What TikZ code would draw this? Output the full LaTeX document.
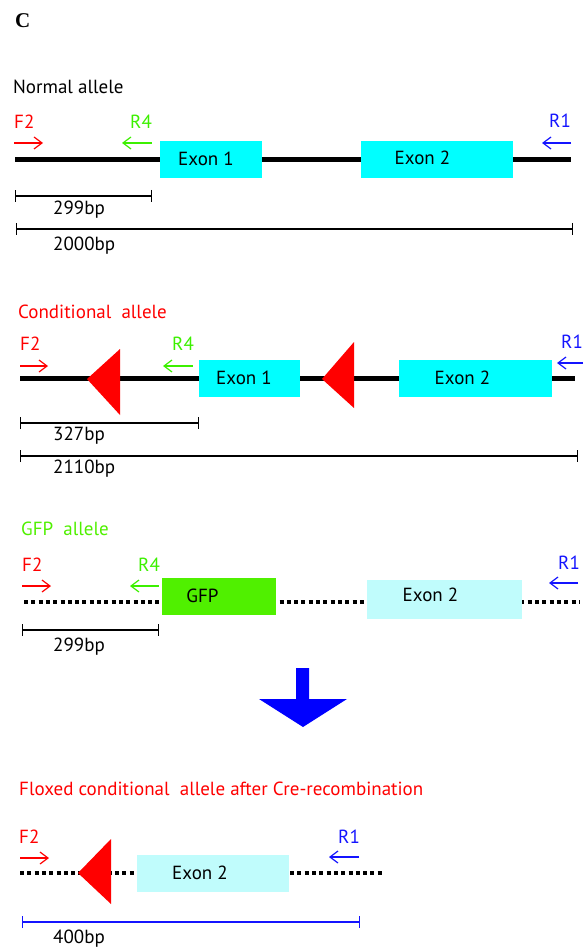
\documentclass[tikz,border=0pt]{standalone}
\usepackage{fontspec}
\setmainfont{PT Sans}
\newfontfamily\panelfont{Liberation Serif}
\usetikzlibrary{arrows.meta}

\definecolor{exoncyan}{RGB}{0,255,255}
\definecolor{exonpale}{RGB}{192,252,252}
\definecolor{gfpgreen}{RGB}{80,240,0}
\definecolor{rfourgreen}{RGB}{60,240,0}
\definecolor{loxred}{RGB}{255,0,0}
\definecolor{roneblue}{RGB}{20,20,255}

\tikzset{
	every node/.style={inner sep=0pt, font=\fontsize{19}{22}\selectfont},
	txt/.style={anchor=base west},
	exonlbl/.style={anchor=base},
	exonbox/.style={fill=#1, minimum height=37pt},
	fwd/.style={-{Straight Barb[length=8pt,width=12pt]}, line width=1.2pt},
	dna/.style={line width=5pt},
	deleted/.style={line width=4pt, dash pattern=on 4pt off 3.3pt},
	sizebar/.style={{Bar[width=12pt]}-{Bar[width=12pt]}, line width=1.3pt},
}

\begin{document}
\begin{tikzpicture}[x=1pt,y=-1pt]
	\useasboundingbox (0,0) rectangle (583,949);
	\node[txt, font=\panelfont\bfseries\fontsize{21}{24}\selectfont] (panel) at (15,28) {C};

	% normal allele
	\begin{scope}
      \node[txt] (normtitle) at (13,94) {Normal allele};
      \node[exonbox=exoncyan, minimum width=102pt] (nex1) at (211,159.5) {};
      \node[exonbox=exoncyan, minimum width=152pt] (nex2) at (437,159.5) {};
      \coordinate (nstart) at (15,159.5);
      \coordinate (nend) at (571,159.5);
      \draw[dna] (nstart) -- (nex1.west) (nex1.east) -- (nex2.west) (nex2.east) -- (nend);
      \node[exonlbl] (nlbl1) at (206,166) {Exon 1};
      \node[exonlbl] (nlbl2) at (422.5,165) {Exon 2};
      \node[txt, text=loxred] (nf2) at (14,129) {F2};
      \node[txt, text=rfourgreen] (nr4) at (130,129) {R4};
      \node[txt, text=roneblue] (nr1) at (549,128) {R1};
      \draw[fwd, loxred] (14,143) -- (43,143);
      \draw[fwd, rfourgreen] (152,143) -- (122,143);
      \draw[fwd, roneblue] (571,143) -- (542,143);
      \draw[sizebar] (15,196) -- (152,196);
      \node[txt] (nbp1) at (53,215) {299bp};
      \draw[sizebar] (16,229) -- (573,229);
      \node[txt] (nbp2) at (53,251) {2000bp};
	\end{scope}

	% conditional allele
	\begin{scope}
      \node[txt, text=loxred] (condtitle) at (18,318) {Conditional\ \ allele};
      \node[exonbox=exoncyan, minimum width=101pt] (cex1) at (249.5,378.5) {};
      \node[exonbox=exoncyan, minimum width=153pt] (cex2) at (475.5,378.5) {};
      \coordinate (cstart) at (20,378.5);
      \coordinate (cend) at (575,378.5);
      \draw[dna] (cstart) -- (cex1.west) (cex1.east) -- (cex2.west) (cex2.east) -- (cend);
      \fill[loxred] (87,379) -- (120,349) -- (120,415) -- cycle;
      \fill[loxred] (322,379) -- (354,342) -- (354,408) -- cycle;
      \node[exonlbl] (clbl1) at (244,384) {Exon 1};
      \node[exonlbl] (clbl2) at (462.5,384) {Exon 2};
      \node[txt, text=loxred] (cf2) at (20,350) {F2};
      \node[txt, text=rfourgreen] (cr4) at (172,350) {R4};
      \node[txt, text=roneblue] (cr1) at (561,348) {R1};
      \draw[fwd, loxred] (20,366) -- (48,366);
      \draw[fwd, rfourgreen] (193,366) -- (163,366);
      \draw[fwd, roneblue] (583,363) -- (557,363);
      \draw[sizebar] (20,423) -- (199,423);
      \node[txt] (cbp1) at (53,440) {327bp};
      \draw[sizebar] (20,456) -- (578,456);
      \node[txt] (cbp2) at (53,473) {2110bp};
	\end{scope}

	% gfp allele
	\begin{scope}
      \node[txt, text=gfpgreen] (gfptitle) at (21,535) {GFP\ \ allele};
      \coordinate (gstart) at (24,602);
      \coordinate (gend) at (580,602);
      \draw[deleted] (gstart) -- (gend);
      \node[exonbox=gfpgreen, minimum width=114pt] (gbox) at (219,596.5) {};
      \node[exonbox=exonpale, minimum width=155pt, minimum height=39pt] (gex2) at (444.5,599.5) {};
      \node[exonlbl] (glbl1) at (202.5,602) {GFP};
      \node[exonlbl] (glbl2) at (430.5,601) {Exon 2};
      \node[txt, text=loxred] (gf2) at (22,571) {F2};
      \node[txt, text=rfourgreen] (gr4) at (138,571) {R4};
      \node[txt, text=roneblue] (gr1) at (558,569) {R1};
      \draw[fwd, loxred] (22,586) -- (51,586);
      \draw[fwd, rfourgreen] (159,586) -- (130,586);
      \draw[fwd, roneblue] (578,583) -- (549,583);
      \draw[sizebar] (22,630) -- (159,630);
      \node[txt] (gbp1) at (53,651) {299bp};
	\end{scope}

	\fill[blue] (296,668) -- (309,668) -- (309,699) -- (347,699) -- (303,727) -- (259,699) -- (296,699) -- cycle;

	% after cre
	\begin{scope}
      \node[txt, text=loxred] (floxtitle) at (19,795) {Floxed conditional\ \ allele after Cre-recombination};
      \coordinate (fstart) at (20,873);
      \coordinate (fend) at (383,873);
      \draw[deleted] (fstart) -- (fend);
      \node[exonbox=exonpale, minimum width=152pt] (fex2) at (213,873.5) {};
      \fill[loxred] (78,873) -- (111,839) -- (111,904) -- cycle;
      \node[exonlbl] (flbl2) at (200,879) {Exon 2};
      \node[txt, text=loxred] (ff2) at (19,843) {F2};
      \node[txt, text=roneblue] (fr1) at (338,843) {R1};
      \draw[fwd, loxred] (20,858) -- (49,858);
      \draw[fwd, roneblue] (359,857) -- (329,857);
      \draw[sizebar, roneblue] (22,922) -- (360,922);
      \node[txt] (fbp1) at (53,943) {400bp};
	\end{scope}
\end{tikzpicture}
\end{document}
